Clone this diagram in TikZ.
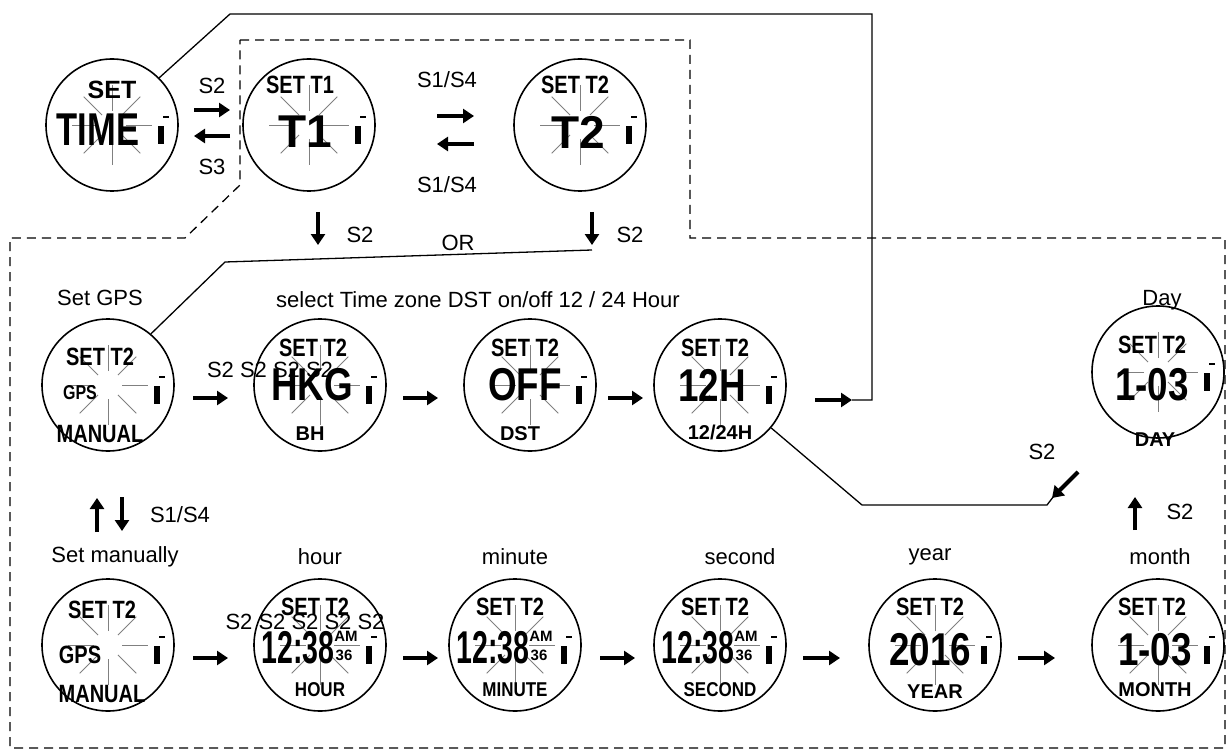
\documentclass[tikz,border=0pt]{standalone}
\usepackage{fontspec}
\setmainfont{Liberation Sans}
\usetikzlibrary{arrows.meta}
\begin{document}
\begin{tikzpicture}[x=1pt,y=-1pt,
 watch/.style={circle,draw,line width=1.6pt,minimum size=132pt,inner sep=0},
 lbl/.style={font=\fontsize{22}{24}\selectfont},
 big/.style={font=\bfseries\fontsize{46}{46}\selectfont},
 mid/.style={font=\bfseries\fontsize{25}{25}\selectfont},
 sm/.style={font=\bfseries\fontsize{20}{20}\selectfont},
 tiny/.style={font=\bfseries\fontsize{15}{15}\selectfont},
 arr/.style={-{Triangle[length=11pt,width=14pt]},line width=4pt},
 conn/.style={line width=1.3pt},
 dsh/.style={line width=1.3pt,dash pattern=on 9pt off 6pt}]
\useasboundingbox (0,0) rectangle (1231,754);
% dashed outline
\draw[dsh] (240,40) -- (690,40) -- (690,238) -- (1225,238) -- (1225,748) -- (10,748) -- (10,238) -- (185,238) -- (240,185) -- cycle;
% watches
\node[watch] (w0) at (112,125) {};
\node[watch] (w1) at (309,125) {};
\node[watch] (w2) at (580,125) {};
\node[watch] (g) at (108,385) {};
\node[watch] (tz) at (320,385) {};
\node[watch] (dst) at (530,385) {};
\node[watch] (h12) at (720,385) {};
\node[watch] (day) at (1158,372) {};
\node[watch] (m) at (108,645) {};
\node[watch] (hr) at (320,645) {};
\node[watch] (mi) at (515,645) {};
\node[watch] (se) at (720,645) {};
\node[watch] (yr) at (935,645) {};
\node[watch] (mo) at (1158,645) {};
% flashing rays and marks
\foreach \w in {w0,w1,w2,g,tz,dst,h12,day,m,hr,mi,se,yr,mo}{
 \foreach \a in {0,45,...,315}{\draw[gray,line width=0.8pt] (\w) ++(\a:14) -- ++(\a:26);}
 \fill (\w) ++(22:50) rectangle ++(6,-18);
 \fill (\w) ++(-10:52) rectangle ++(6,2);
}
% texts in watches
\node[mid] at (112,90) {SET};
\node[big] at (98,130) {\scalebox{0.75}[1]{TIME}};
\node[mid] at (300,85) {\scalebox{0.8}[1]{SET T1}};
\node[big] at (305,132) {T1};
\node[mid] at (575,85) {\scalebox{0.8}[1]{SET T2}};
\node[big] at (578,132) {T2};
\node[mid] at (100,357) {\scalebox{0.8}[1]{SET T2}};
\node[sm] at (80,393) {\scalebox{0.8}[1]{GPS}};
\node[mid] at (100,434) {\scalebox{0.8}[1]{MANUAL}};
\node[mid] at (313,348) {\scalebox{0.8}[1]{SET T2}};
\node[big] at (312,385) {\scalebox{0.8}[1]{HKG}};
\node[sm] at (310,434) {BH};
\node[mid] at (525,348) {\scalebox{0.8}[1]{SET T2}};
\node[big] at (525,385) {\scalebox{0.8}[1]{OFF}};
\node[sm] at (520,434) {DST};
\node[mid] at (715,348) {\scalebox{0.8}[1]{SET T2}};
\node[big] at (712,385) {\scalebox{0.8}[1]{12H}};
\node[sm] at (720,432) {12/24H};
\node[mid] at (1152,345) {\scalebox{0.8}[1]{SET T2}};
\node[big] at (1152,385) {\scalebox{0.8}[1]{1-03}};
\node[sm] at (1155,440) {DAY};
\node[mid] at (102,610) {\scalebox{0.8}[1]{SET T2}};
\node[mid] at (80,655) {\scalebox{0.8}[1]{GPS}};
\node[mid] at (102,694) {\scalebox{0.8}[1]{MANUAL}};
\foreach \w/\x/\lab in {hr/320/HOUR,mi/515/MINUTE,se/720/SECOND}{
 \node[mid] at (\x-5,607) {\scalebox{0.8}[1]{SET T2}};
 \node[big] at (\x-22,648) {\scalebox{0.62}[1]{12:38}};
 \node[tiny] at (\x+26,636) {AM};
 \node[tiny] at (\x+24,655) {36};
 \node[sm] at (\x,690) {\scalebox{0.85}[1]{\lab}};
}
\node[mid] at (930,607) {\scalebox{0.8}[1]{SET T2}};
\node[big] at (930,650) {\scalebox{0.8}[1]{2016}};
\node[sm] at (935,692) {YEAR};
\node[mid] at (1152,607) {\scalebox{0.8}[1]{SET T2}};
\node[big] at (1155,650) {\scalebox{0.8}[1]{1-03}};
\node[sm] at (1155,690) {MONTH};
% arrows top
\draw[arr] (194,110) -- (230,110);
\draw[arr] (230,136) -- (194,136);
\node[lbl] at (212,86) {S2};
\node[lbl] at (212,167) {S3};
\draw[arr] (437,116) -- (474,116);
\draw[arr] (474,144) -- (437,144);
\node[lbl] at (447,80) {S1/S4};
\node[lbl] at (447,185) {S1/S4};
\draw[arr] (318,212) -- (318,245);
\node[lbl] at (360,235) {S2};
\draw[arr] (592,212) -- (592,245);
\node[lbl] at (630,235) {S2};
\node[lbl] at (458,243) {OR};
% row labels
\node[lbl] at (100,298) {Set GPS};
\node[lbl] at (478,300) {select Time zone DST on/off 12 / 24 Hour};
\node[lbl] at (1162,300) {Day};
\node[lbl] at (115,557) {Set manually};
\node[lbl] at (320,557) {hour};
\node[lbl] at (515,557) {minute};
\node[lbl] at (740,557) {second};
\node[lbl] at (930,557) {year};
\node[lbl] at (1160,557) {month};
% row arrows
\draw[arr] (193,398) -- (228,398);
\node[lbl] at (270,370) {S2 S2 S2 S2};
\draw[arr] (403,398) -- (438,398);
\draw[arr] (608,398) -- (643,398);
\draw[arr] (815,400) -- (852,400);
\draw[arr] (193,658) -- (228,658);
\node[lbl] at (305,622) {S2 S2 S2 S2 S2};
\draw[arr] (403,658) -- (438,658);
\draw[arr] (600,658) -- (635,658);
\draw[arr] (803,658) -- (840,658);
\draw[arr] (1018,658) -- (1055,658);
\draw[arr] (1135,530) -- (1135,497);
\node[lbl] at (1180,512) {S2};
\draw[arr] (1078,472) -- (1052,498);
\node[lbl] at (1042,452) {S2};
\draw[arr] (97,532) -- (97,498);
\draw[arr] (122,497) -- (122,531);
\node[lbl] at (180,515) {S1/S4};
% solid connectors
\draw[conn] (w0.45) -- (230,14) -- (872,14) -- (872,400) -- (852,400);
\draw[conn] (g.50) -- (225,262) -- (592,250);
\draw[conn] (h12.-40) -- (862,505) -- (1047,505) -- (1060,488);
\end{tikzpicture}
\end{document}
